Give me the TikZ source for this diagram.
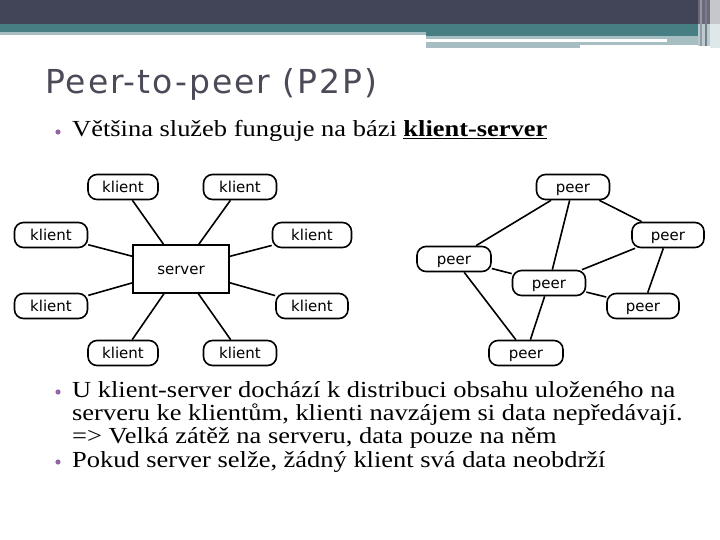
\documentclass[tikz,border=0pt]{standalone}
\usepackage{fontspec}
\setmainfont{Liberation Serif}[FakeStretch=1.15]
\newfontfamily\titlefont[LetterSpace=6]{DejaVu Sans}
\newfontfamily\diafont{DejaVu Sans}
\usetikzlibrary{positioning}
\definecolor{slate}{HTML}{424457}
\definecolor{tealband}{HTML}{467E83}
\definecolor{mist}{HTML}{A6BEC1}
\definecolor{orchid}{HTML}{9364A4}
\definecolor{titlegray}{HTML}{4A4B57}
\tikzset{
  pill/.style={draw,line width=1.6pt,rounded corners=9pt,minimum height=25pt,
               inner sep=0pt,text height=12pt,text depth=1pt,
               font=\diafont\fontsize{15}{16}\selectfont},
  hub/.style={draw,line width=1.6pt,minimum width=96pt,minimum height=48pt,
              inner sep=0pt,text height=12pt,text depth=1pt,
              font=\diafont\fontsize{15}{16}\selectfont},
  link/.style={line width=1.6pt},
  body/.style={anchor=base west,inner sep=0pt,font=\fontsize{23}{24}\selectfont},
}
\newcommand{\tecka}[1]{\fill[orchid] (58,#1) circle (2.6pt);}
\begin{document}
\begin{tikzpicture}[x=1pt,y=-1pt]
  \useasboundingbox (0,0) rectangle (720,540);
  % header bands
  \fill[slate] (0,0) rectangle (698,24);
  \fill[tealband] (0,24) rectangle (698,32);
  \fill[mist] (0,32) rectangle (426,35.5);
  \fill[tealband] (426,32) rectangle (698,35.7);
  \fill[mist] (426,35.7) rectangle (667,38.7);
  \fill[mist] (426,42) rectangle (580,48.5);
  \fill[mist] (580,42) rectangle (698,45);
  \fill[mist] (667,35.7) rectangle (698,45);
  \fill[slate!80!white] (698,0) rectangle (710,24);
  \fill[mist!80!white] (698,24) rectangle (710,46);
  \fill[slate!55!white] (700,0) rectangle (702,46);
  \fill[slate!70!white] (705,0) rectangle (707,46);
  \fill[slate!30!white] (710,0) rectangle (720,24);
  \fill[tealband!18!white] (710,24) rectangle (720,48);

  % title and text
  \node[anchor=base west,inner sep=0pt,text=titlegray,
        font=\titlefont\fontsize{33}{34}\selectfont] (title) at (45,94) {Peer-to-peer (P2P)};
  \tecka{132}
  \node[body] (t1) at (72,137) {Většina služeb funguje na bázi \underline{\textbf{klient-server}}};
  \tecka{392}
  \node[body] (t2) at (72,397) {U klient-server dochází k distribuci obsahu uloženého na};
  \node[body] (t3) at (72,420) {serveru ke klientům, klienti navzájem si data nepředávají.};
  \node[body] (t4) at (72,443) {=> Velká zátěž na serveru, data pouze na něm};
  \tecka{462}
  \node[body] (t5) at (72,467) {Pokud server selže, žádný klient svá data neobdrží};

  % klient-server
  \node[hub] (srv) at (181,269) {server};
  \node[pill,minimum width=70pt] (k1) at (123,187) {klient};
  \node[pill,minimum width=73pt] (k2) at (240,187) {klient};
  \node[pill,minimum width=73pt] (k3) at (51,235) {klient};
  \node[pill,minimum width=79pt] (k4) at (312,235) {klient};
  \node[pill,minimum width=73pt] (k5) at (51,306) {klient};
  \node[pill,minimum width=72pt] (k6) at (312,306) {klient};
  \node[pill,minimum width=70pt] (k7) at (123,353) {klient};
  \node[pill,minimum width=73pt] (k8) at (240,353) {klient};
  \foreach \k in {k1,k2,k3,k4,k5,k6,k7,k8}
    \draw[link] (\k) -- (srv);

  % peer-to-peer
  \node[pill,minimum width=73pt] (p1) at (573,187) {peer};
  \node[pill,minimum width=72pt] (p2) at (668,235) {peer};
  \node[pill,minimum width=74pt] (p3) at (454,259) {peer};
  \node[pill,minimum width=73pt] (p4) at (549,283) {peer};
  \node[pill,minimum width=72pt] (p5) at (643,306) {peer};
  \node[pill,minimum width=74pt] (p6) at (526,353) {peer};
  \foreach \a/\b in {p1/p3,p1/p4,p1/p2,p3/p4,p3/p6,p4/p2,p4/p5,p4/p6,p2/p5}
    \draw[link] (\a) -- (\b);
\end{tikzpicture}
\end{document}
